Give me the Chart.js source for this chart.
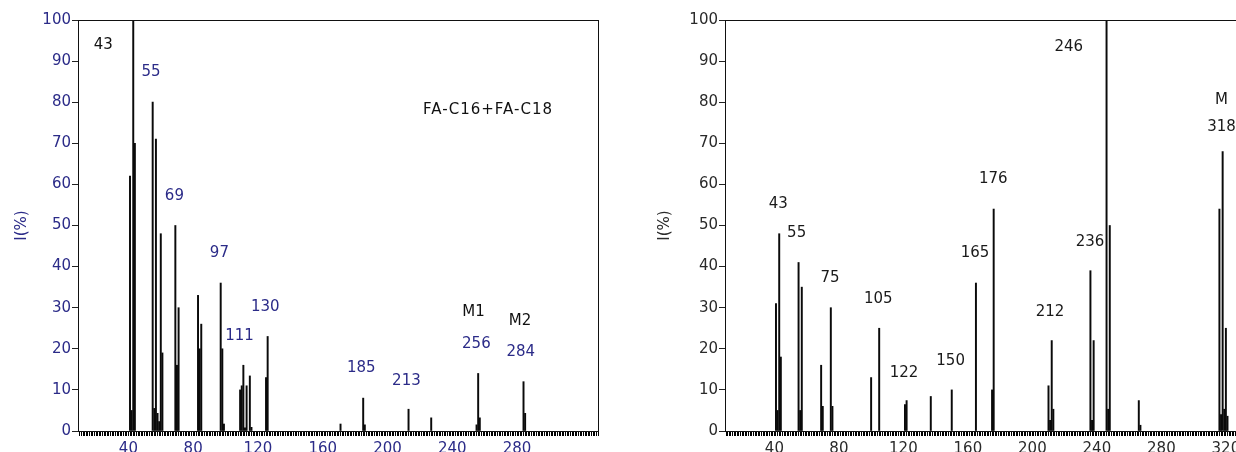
<!DOCTYPE html>
<html>
<head>
<meta charset="utf-8">
<script src="https://cdn.jsdelivr.net/npm/chart.js@4/dist/chart.umd.min.js"></script>
<style>
  html, body { margin: 0; padding: 0; background: #fff; width: 1236px; height: 452px; overflow: hidden; }
  #left { position: absolute; left: 0; top: 0; }
  #right { position: absolute; left: 618px; top: 0; }
</style>
</head>
<body>
<canvas id="left" width="618" height="452"></canvas>
<canvas id="right" width="644" height="452"></canvas>
<script>
// ---------- DATA ----------
// Left spectrum: FA-C16 + FA-C18
const leftMz = [41, 42, 43, 44, 55, 56, 57, 58, 59, 60, 61, 69, 70, 71, 83, 84, 85, 97, 98, 99,
  109, 110, 111, 112, 113, 115, 116, 125, 126, 171, 185, 186, 213, 227, 255, 256, 257, 284, 285];
const leftIntensity = [62, 5, 100, 70, 80, 5.5, 71, 4.3, 2.3, 48, 19, 50, 16, 30, 33, 20, 26, 36, 20, 1.7,
  10, 11, 16, 0.8, 11, 13.4, 0.9, 13, 23, 1.7, 8, 1.5, 5.3, 3.2, 1.5, 14, 3.2, 12, 4.3];
const leftTickLabels = [40, 80, 120, 160, 200, 240, 280];
const leftAnnText = ['43', '55', '69', '97', '111', '130', '185', '213', 'M1', '256', 'M2', '284', 'FA-C16+FA-C18'];
const leftAnnMz   = [24.5, 54.0, 68.4, 96.2, 108.6, 124.5, 183.8, 211.7, 253.1, 254.9, 281.9, 282.3, 262.1];
const leftAnnI    = [93.9, 87.4, 57.2, 43.4, 23.2, 30.1, 15.3, 12.2, 28.9, 21.1, 26.8, 19.1, 78.1];
const leftAnnDark = [true, false, false, false, false, false, false, false, true, false, true, false, true];

// Right spectrum
const rightMz = [41, 42, 43, 44, 55, 56, 57, 69, 70, 75, 76, 100, 105, 121, 122, 137, 150, 165, 175, 176,
  210, 211, 212, 213, 236, 237, 238, 246, 247, 248, 266, 267, 316, 317, 318, 319, 320, 321];
const rightIntensity = [31, 5, 48, 18, 41, 5, 35, 16, 6, 30, 6, 13, 25, 6.4, 7.4, 8.4, 10, 36, 10, 54,
  11, 2.6, 22, 5.3, 39, 2.6, 22, 100, 5.3, 50, 7.4, 1.4, 54, 4, 68, 5.3, 25, 3.6];
const rightTickLabels = [40, 80, 120, 160, 200, 240, 280, 320];
const rightAnnText = ['43', '55', '75', '105', '122', '150', '165', '176', '212', '236', '246', 'M', '318'];
const rightAnnMz   = [42.4, 53.8, 74.5, 104.4, 120.4, 149.3, 164.4, 175.7, 210.9, 235.7, 222.6, 317.3, 317.3];
const rightAnnI    = [55.3, 48.1, 37.3, 32.0, 14.2, 17.1, 43.2, 61.2, 29.0, 45.9, 93.3, 80.4, 74.0];

const yTicks = [0, 10, 20, 30, 40, 50, 60, 70, 80, 90, 100];

// ---------- STYLE ----------
const FONT = '"DejaVu Sans", Verdana, sans-serif';
const NAVY = '#2b2b88';
const GREY = '#2a2a2a';

function framePlugin() {
  return {
    id: 'frame',
    afterDatasetsDraw(chart) {
      const a = chart.chartArea, ctx = chart.ctx;
      ctx.save();
      ctx.strokeStyle = '#111';
      ctx.lineWidth = 1;
      ctx.strokeRect(Math.round(a.left) - 0.5, Math.round(a.top) + 0.5,
                     Math.round(a.right - a.left) + 1, Math.round(a.bottom - a.top));
      ctx.restore();
    }
  };
}

function annPlugin(texts, mzs, ints, colorFn) {
  return {
    id: 'ann',
    afterDatasetsDraw(chart) {
      const ctx = chart.ctx, xs = chart.scales.x, ys = chart.scales.y;
      ctx.save();
      ctx.font = '15px ' + FONT;
      ctx.textAlign = 'center';
      ctx.textBaseline = 'middle';
      texts.forEach((t, i) => {
        ctx.fillStyle = colorFn(i);
        ctx.letterSpacing = t.length > 4 ? '1px' : '0px';
        ctx.fillText(t, xs.getPixelForValue(mzs[i]), ys.getPixelForValue(ints[i]));
      });
      ctx.restore();
    }
  };
}

function makeChart(id, mz, inten, xMin, tickLabels, textColor, yWidth, titlePad, padRight, plugins) {
  return new Chart(document.getElementById(id), {
    type: 'bar',
    data: {
      datasets: [{
        data: mz.map((m, i) => ({ x: m, y: inten[i] })),
        backgroundColor: '#0a0a0a',
        borderWidth: 0,
        barThickness: 1.3,
        grouped: false
      }]
    },
    options: {
      responsive: false,
      animation: false,
      events: [],
      layout: { padding: { top: 20, right: padRight, bottom: 0, left: 0 } },
      plugins: { legend: { display: false }, tooltip: { enabled: false } },
      scales: {
        x: {
          type: 'linear',
          min: xMin, max: 330,
          offset: false,
          border: { display: false },
          grid: { display: true, drawOnChartArea: false, drawTicks: true, tickLength: 5, color: '#000', offset: false },
          ticks: {
            stepSize: 1, autoSkip: false, maxRotation: 0, padding: 4,
            color: textColor, font: { family: FONT, size: 15 },
            callback: v => tickLabels.includes(v) ? String(v) : ''
          },
          afterFit: s => { s.height = 21; }
        },
        y: {
          min: 0, max: 100,
          border: { display: false },
          afterBuildTicks: s => { s.ticks = yTicks.map(v => ({ value: v })); },
          grid: { drawOnChartArea: false, drawTicks: true, tickLength: 7, color: '#222' },
          ticks: { padding: 1, color: textColor, font: { family: FONT, size: 15 } },
          title: { display: true, text: 'I(%)', color: textColor, font: { family: FONT, size: 15 },
                   padding: { top: titlePad, bottom: 0 } },
          afterFit: s => { s.width = yWidth; }
        }
      }
    },
    plugins: plugins
  });
}

makeChart('left', leftMz, leftIntensity, 9.5, leftTickLabels, NAVY, 79, 13, 20,
  [framePlugin(), annPlugin(leftAnnText, leftAnnMz, leftAnnI, i => leftAnnDark[i] ? '#111' : NAVY)]);
makeChart('right', rightMz, rightIntensity, 10, rightTickLabels, GREY, 108, 38, 20,
  [framePlugin(), annPlugin(rightAnnText, rightAnnMz, rightAnnI, () => '#1a1a1a')]);
</script>
</body>
</html>
